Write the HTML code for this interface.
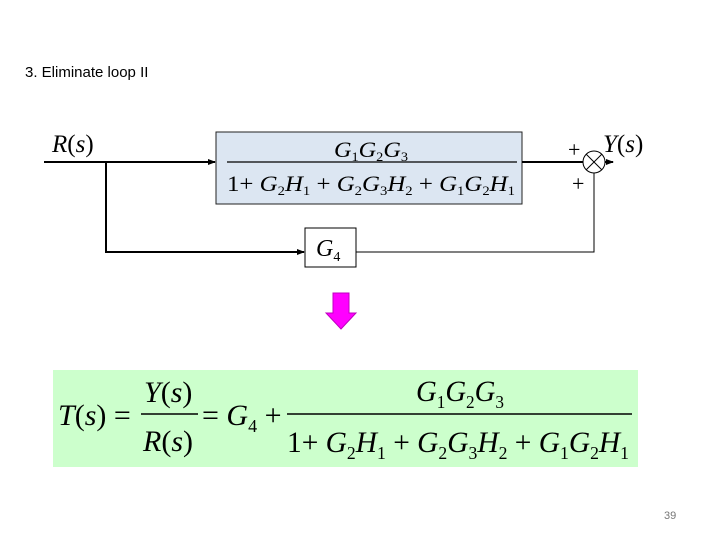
<!DOCTYPE html>
<html><head><meta charset="utf-8"><style>
html,body{margin:0;padding:0;background:#fff;}
svg{display:block;}
.t{font-family:"Liberation Serif",serif;fill:#000;}
</style></head><body>
<svg width="720" height="540" viewBox="0 0 720 540" xmlns="http://www.w3.org/2000/svg">
<defs><marker id="a" markerWidth="8" markerHeight="8" refX="7" refY="4" orient="auto" markerUnits="userSpaceOnUse"><path d="M0,1 L8,4 L0,7 Z" fill="#000"/></marker></defs>
<text x="25" y="77" font-family="Liberation Sans, sans-serif" font-size="15">3. Eliminate loop II</text>
<text class="t" x="52" y="152" font-size="25"><tspan font-style="italic">R</tspan>(<tspan font-style="italic">s</tspan>)</text>
<line x1="44" y1="162" x2="215" y2="162" stroke="#000" stroke-width="2" marker-end="url(#a)"/>
<rect x="216" y="132" width="306" height="72" fill="#dce6f2" stroke="#222" stroke-width="1"/>
<text class="t" x="334" y="157" font-size="22" textLength="74" lengthAdjust="spacingAndGlyphs"><tspan font-style="italic">G</tspan><tspan font-size="13" dy="4">1</tspan><tspan font-style="italic" dy="-4">G</tspan><tspan font-size="13" dy="4">2</tspan><tspan font-style="italic" dy="-4">G</tspan><tspan font-size="13" dy="4">3</tspan></text>
<line x1="227" y1="162" x2="517" y2="162" stroke="#000" stroke-width="1.2"/>
<text class="t" x="227" y="191" font-size="22" textLength="288" lengthAdjust="spacingAndGlyphs">1+ <tspan font-style="italic">G</tspan><tspan font-size="13" dy="4">2</tspan><tspan font-style="italic" dy="-4">H</tspan><tspan font-size="13" dy="4">1</tspan><tspan dy="-4"> + </tspan><tspan font-style="italic">G</tspan><tspan font-size="13" dy="4">2</tspan><tspan font-style="italic" dy="-4">G</tspan><tspan font-size="13" dy="4">3</tspan><tspan font-style="italic" dy="-4">H</tspan><tspan font-size="13" dy="4">2</tspan><tspan dy="-4"> + </tspan><tspan font-style="italic">G</tspan><tspan font-size="13" dy="4">1</tspan><tspan font-style="italic" dy="-4">G</tspan><tspan font-size="13" dy="4">2</tspan><tspan font-style="italic" dy="-4">H</tspan><tspan font-size="13" dy="4">1</tspan></text>
<line x1="522" y1="162" x2="583" y2="162" stroke="#000" stroke-width="2"/>
<circle cx="594" cy="162" r="11" fill="#fff" stroke="#000" stroke-width="1"/>
<line x1="586" y1="154" x2="602" y2="170" stroke="#000"/>
<line x1="602" y1="154" x2="586" y2="170" stroke="#000"/>
<line x1="605" y1="162" x2="613" y2="162" stroke="#000" stroke-width="2" marker-end="url(#a)"/>
<text class="t" x="568" y="157" font-size="22">+</text>
<text class="t" x="572" y="191" font-size="22">+</text>
<text class="t" x="603" y="152" font-size="25"><tspan font-style="italic">Y</tspan>(<tspan font-style="italic">s</tspan>)</text>
<polyline points="106,162 106,252 304,252" fill="none" stroke="#000" stroke-width="2" marker-end="url(#a)"/>
<rect x="305" y="228" width="51" height="39" fill="#fff" stroke="#000"/>
<text class="t" x="316" y="256" font-size="24"><tspan font-style="italic">G</tspan><tspan font-size="14" dy="5">4</tspan></text>
<polyline points="356,252 594,252 594,173" fill="none" stroke="#000" stroke-width="1"/>
<path d="M333,293 L349,293 L349,313 L356,313 L341,329 L326,313 L333,313 Z" fill="#ff00ff" stroke="#c000c0" stroke-width="1"/>
<rect x="53" y="370" width="585" height="97" fill="#ccffcc"/>
<text class="t" x="58" y="425" font-size="30"><tspan font-style="italic">T</tspan>(<tspan font-style="italic">s</tspan>) =</text>
<text class="t" x="144" y="402" font-size="30"><tspan font-style="italic">Y</tspan>(<tspan font-style="italic">s</tspan>)</text>
<line x1="141" y1="414" x2="198" y2="414" stroke="#000" stroke-width="1.5"/>
<text class="t" x="143" y="451" font-size="30"><tspan font-style="italic">R</tspan>(<tspan font-style="italic">s</tspan>)</text>
<text class="t" x="202" y="425" font-size="30">= <tspan font-style="italic">G</tspan><tspan font-size="18" dy="7">4</tspan><tspan dy="-7"> +</tspan></text>
<text class="t" x="416" y="401" font-size="30" textLength="88" lengthAdjust="spacingAndGlyphs"><tspan font-style="italic">G</tspan><tspan font-size="18" dy="7">1</tspan><tspan font-style="italic" dy="-7">G</tspan><tspan font-size="18" dy="7">2</tspan><tspan font-style="italic" dy="-7">G</tspan><tspan font-size="18" dy="7">3</tspan></text>
<line x1="287" y1="414" x2="632" y2="414" stroke="#000" stroke-width="1.5"/>
<text class="t" x="287" y="452" font-size="30" textLength="342" lengthAdjust="spacingAndGlyphs">1+ <tspan font-style="italic">G</tspan><tspan font-size="18" dy="7">2</tspan><tspan font-style="italic" dy="-7">H</tspan><tspan font-size="18" dy="7">1</tspan><tspan dy="-7"> + </tspan><tspan font-style="italic">G</tspan><tspan font-size="18" dy="7">2</tspan><tspan font-style="italic" dy="-7">G</tspan><tspan font-size="18" dy="7">3</tspan><tspan font-style="italic" dy="-7">H</tspan><tspan font-size="18" dy="7">2</tspan><tspan dy="-7"> + </tspan><tspan font-style="italic">G</tspan><tspan font-size="18" dy="7">1</tspan><tspan font-style="italic" dy="-7">G</tspan><tspan font-size="18" dy="7">2</tspan><tspan font-style="italic" dy="-7">H</tspan><tspan font-size="18" dy="7">1</tspan></text>
<text x="664" y="519" font-family="Liberation Sans, sans-serif" font-size="11" fill="#777">39</text>
</svg>
</body></html>
